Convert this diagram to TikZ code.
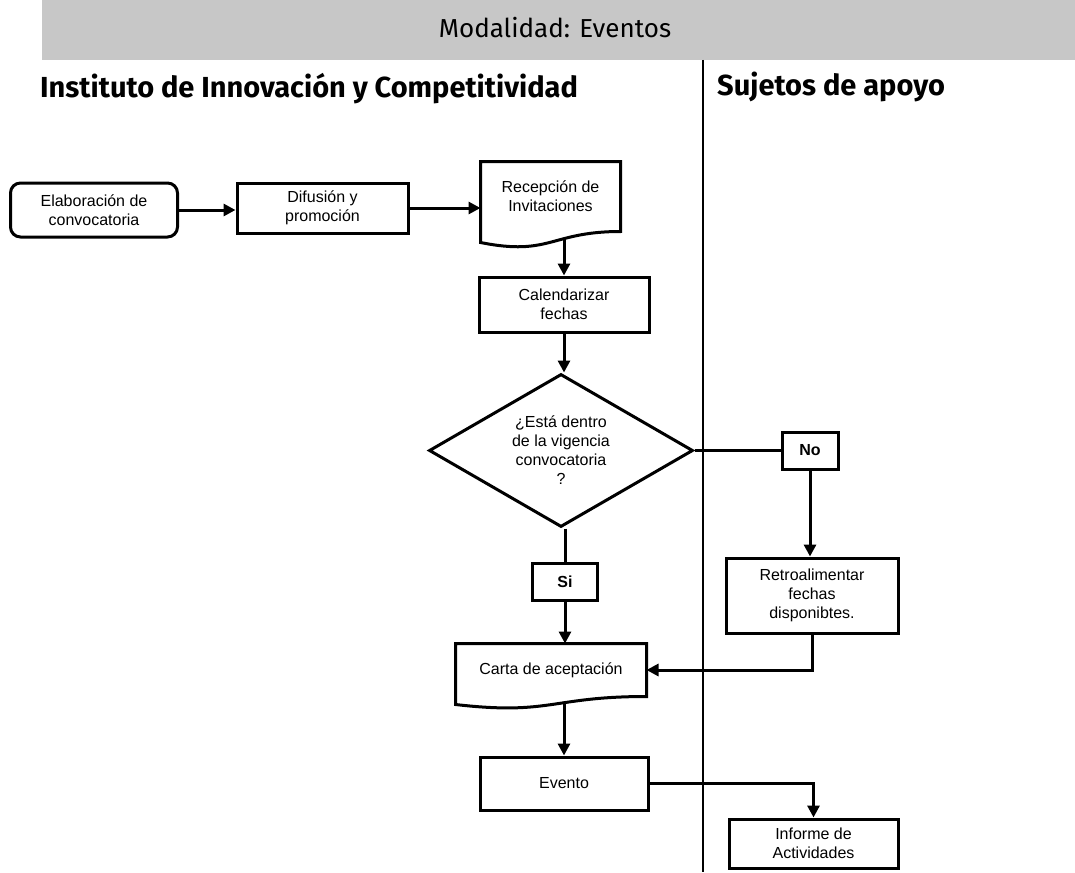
\documentclass[tikz,border=0pt]{standalone}
\usepackage{fontspec}
\setmainfont{Liberation Sans}
\newfontfamily\headfont{Fira Sans}
\usetikzlibrary{shapes.geometric,arrows.meta,calc}

\tikzset{
  box/.style={draw, line width=3pt, align=center, inner sep=0pt,
    font=\fontsize{16}{19}\selectfont},
  doc/.style={box, draw=none},
  tag/.style={box, font=\fontsize{16}{19}\selectfont\bfseries},
  flow/.style={line width=3pt, -{Triangle[length=12pt,width=12pt]}},
  head/.style={anchor=base west, inner sep=0pt, font=\headfont\fontsize{29}{34}\selectfont\bfseries}
}

\begin{document}
\begin{tikzpicture}[x=1pt,y=-1pt]
  \useasboundingbox (0,0) rectangle (1075,872);
  \fill[black!22] (42,0) rectangle (1075,60);
  \draw[line width=2.4pt] (703,60) -- (703,872);
  \node[anchor=base, inner sep=0pt, font=\headfont\fontsize{26}{30}\selectfont] (mod) at (555,38) {Modalidad: Eventos};
  \node[head] (inst) at (40,98) {Instituto de Innovación y Competitividad};
  \node[head] (suj) at (717,96) {Sujetos de apoyo};

  \draw
    (94,210) node[box, rounded corners=10pt, minimum width=167pt, minimum height=54pt] (elab) {Elaboración de\\convocatoria}
    (322.5,208) node[box, minimum width=171pt, minimum height=50pt] (dif) {Difusión y\\promoción}
    (550.5,196.5) node[doc, minimum width=137pt, minimum height=67pt] (rec) {Recepción de\\Invitaciones}
    (564,304.5) node[box, minimum width=170pt, minimum height=55pt] (cal) {Calendarizar\\fechas}
    (561,450.5) node[box, diamond, aspect=1.725, minimum width=264pt, minimum height=153pt] (dec) {¿Está dentro\\de la vigencia\\convocatoria\\?}
    (810,450.5) node[tag, minimum width=56pt, minimum height=37pt] (no) {No}
    (565,581.5) node[tag, minimum width=65pt, minimum height=37pt] (si) {Si}
    (812,595.5) node[box, minimum width=172pt, minimum height=75pt] (retro) {Retroalimentar\\fechas\\disponibtes.}
    (551,670) node[doc, minimum width=188pt, minimum height=50pt] (carta) {Carta de aceptación}
    (564,783.5) node[box, minimum width=168pt, minimum height=53pt] (evento) {Evento}
    (813.5,843.5) node[box, minimum width=169pt, minimum height=49pt] (informe) {Informe de\\Actividades};

  % documentos con borde ondulado
  \foreach \nm/\dl/\cp in {rec/11/25, carta/8/19}
    \draw[line width=3pt] (\nm.north west) -- (\nm.north east) -- (\nm.south east)
      .. controls (\nm.south) and ([yshift=-\cp pt]\nm.south) .. ([yshift=-\dl pt]\nm.south west) -- cycle;

  \coordinate (recb) at ($(cal.north |- rec.south)+(0,7)$);
  \coordinate (cartab) at ($(evento.north |- carta.south)+(0,6)$);

  \begin{scope}[flow]
    \draw (elab.east) -- (elab.east -| dif.west);
    \draw (dif.east) -- (dif.east -| rec.west);
    \draw (recb) -- (cal.north);
    \draw (cal.south) -- (cal.south |- dec.north);
    \draw (no.south) -- (no.south |- retro.north);
    \draw (si.south) -- (si.south |- carta.north);
    \draw (retro.south) |- (carta.east);
    \draw (cartab) -- (evento.north);
    \draw (evento.east) -| (informe.north);
  \end{scope}
  \begin{scope}[line width=3pt]
    \draw (dec.east) -- (no.west);
    \draw (si.north |- dec.south) -- (si.north);
  \end{scope}
\end{tikzpicture}
\end{document}
